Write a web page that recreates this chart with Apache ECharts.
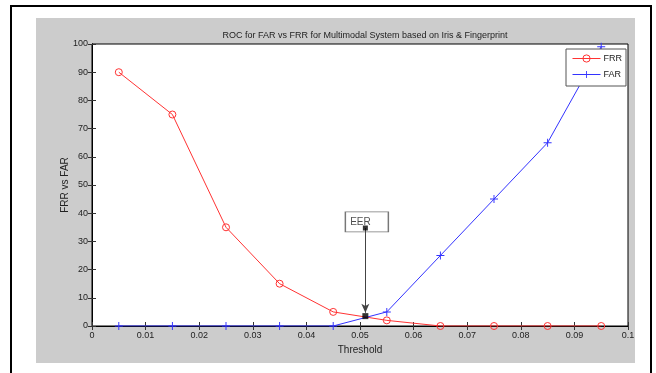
<!DOCTYPE html>
<html>
<head>
<meta charset="utf-8">
<script src="https://cdn.jsdelivr.net/npm/echarts@6/dist/echarts.min.js"></script>
<style>
html,body{margin:0;padding:0;background:#fff;}
#c{width:656px;height:373px;}
</style>
</head>
<body>
<div id="c"></div>
<script>
var thresholds = [0.005, 0.015, 0.025, 0.035, 0.045, 0.055, 0.065, 0.075, 0.085, 0.095];
var frrValues = [90, 75, 35, 15, 5, 2, 0, 0, 0, 0];
var farValues = [0, 0, 0, 0, 0, 5, 25, 45, 65, 99];
var eerPoint = [0.051, 3.5];
var eerLabelPoint = [0.051, 36.9];
var eerTail = [0.051, 34.75];
var titleText = 'ROC for FAR vs FRR for Multimodal System based on Iris & Fingerprint';

var FONT = "'Liberation Sans Narrow', 'Liberation Sans', Arial, sans-serif";
function pairs(xs, ys){ return xs.map(function(x,i){ return [x, ys[i]]; }); }

var chart = echarts.init(document.getElementById('c'), null, {renderer:'canvas'});
var plusPath = 'path://M4.4,0H5.6V10H4.4ZM0,4.4H10V5.6H0Z';
var RED = '#ff3333', BLUE = '#3333ff';
var option = {
  backgroundColor: '#ffffff',
  animation: false,
  graphic: [
    {type:'rect', z:-10, shape:{x:36, y:18, width:599, height:345}, style:{fill:'#cccccc'}, silent:true},
    {type:'rect', z:-9, shape:{x:11, y:6, width:640, height:380}, style:{fill:'none', stroke:'#000', lineWidth:2}, silent:true}
  ],
  title: {
    text: titleText, left: 360, top: 26, textAlign: 'center',
    textStyle: {fontFamily: FONT, fontSize: 9, fontWeight: 'normal', color: '#222'}
  },
  legend: {
    data: [
      {name: 'FRR', itemStyle: {color: 'rgba(255,255,255,0)', borderColor: RED, borderWidth: 1}, lineStyle: {width: 1}},
      {name: 'FAR', lineStyle: {width: 1}}
    ],
    orient: 'vertical', right: 30, top: 49,
    backgroundColor: '#fff', borderColor: '#555', borderWidth: 1, padding: [5, 4, 7, 6],
    itemWidth: 28, itemHeight: 9, itemGap: 7,
    textStyle: {fontFamily: FONT, fontSize: 9, color: '#222', padding: [0,0,0,-2]}
  },
  grid: {left: 92, right: 28, top: 44, bottom: 47, show: true, backgroundColor: '#fff', borderColor: '#000', borderWidth: 1},
  xAxis: [{
    type: 'value', min: 0, max: 0.1, interval: 0.01, position: 'bottom',
    name: 'Threshold', nameLocation: 'middle', nameGap: 18,
    nameTextStyle: {fontFamily: FONT, fontSize: 10, color: '#222'},
    axisLine: {lineStyle: {color: '#000'}},
    axisTick: {inside: true, length: 4, lineStyle: {color: '#333'}},
    axisLabel: {fontFamily: FONT, fontSize: 9, color: '#222', margin: 5},
    splitLine: {show: false}
  },{
    type: 'value', min: 0, max: 0.1, interval: 0.01, position: 'top',
    axisLine: {lineStyle: {color: '#000'}},
    axisTick: {inside: true, length: 4, lineStyle: {color: '#333'}},
    axisLabel: {show: false}, splitLine: {show: false}
  }],
  yAxis: [{
    type: 'value', min: 0, max: 100, interval: 10, position: 'left',
    name: 'FRR vs FAR', nameLocation: 'middle', nameGap: 22, nameMoveOverlap: false,
    nameTextStyle: {fontFamily: "'Liberation Sans', Arial, sans-serif", fontSize: 10, color: '#222'},
    axisLine: {lineStyle: {color: '#000'}},
    axisTick: {inside: true, length: 4, lineStyle: {color: '#333'}},
    axisLabel: {fontFamily: FONT, fontSize: 9, color: '#222', margin: 4},
    splitLine: {show: false}
  },{
    type: 'value', min: 0, max: 100, interval: 10, position: 'right',
    axisLine: {lineStyle: {color: '#000'}},
    axisTick: {inside: true, length: 4, lineStyle: {color: '#333'}},
    axisLabel: {show: false}, splitLine: {show: false}
  }],
  series: [
    {
      name: 'FRR', type: 'line', data: pairs(thresholds, frrValues),
      symbol: 'circle', symbolSize: 7,
      lineStyle: {color: RED, width: 1},
      itemStyle: {color: 'rgba(255,255,255,0)', borderColor: RED, borderWidth: 1}, z: 3
    },
    {
      name: 'FAR', type: 'line', data: pairs(thresholds, farValues),
      symbol: plusPath, symbolSize: 8, symbolKeepAspect: true,
      lineStyle: {color: BLUE, width: 1},
      itemStyle: {color: BLUE}, z: 3
    },
    {
      name: 'EERbox', type: 'scatter', data: [eerLabelPoint],
      symbol: 'rect', symbolSize: [43, 20], symbolOffset: [1.5, 0],
      itemStyle: {color: '#fff', borderColor: '#555', borderWidth: 1},
      label: {show: true, formatter: 'EER', position: 'insideLeft', distance: 4, offset: [1.5, 0],
              fontFamily: FONT, fontSize: 10, color: '#222'},
      z: 4, silent: true
    },
    {
      name: 'EERarrow', type: 'scatter', data: [eerTail],
      symbol: 'rect', symbolSize: 5, itemStyle: {color: '#000'}, z: 6, silent: true,
      markLine: {
        silent: true, symbol: ['none', 'arrow'], symbolSize: [6, 9],
        lineStyle: {color: '#444', width: 1, type: 'solid'},
        label: {show: false},
        data: [[{coord: eerTail}, {coord: [eerPoint[0], eerPoint[1] + 1.2]}]]
      }
    },
    {
      name: 'EER', type: 'scatter', data: [eerPoint],
      symbol: 'rect', symbolSize: 6, itemStyle: {color: '#000'}, z: 7, silent: true
    }
  ]
};
chart.setOption(option);
</script>
</body>
</html>
